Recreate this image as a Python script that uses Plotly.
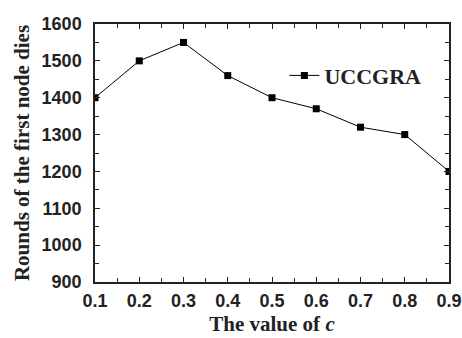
import plotly.graph_objects as go

c_values = [0.1, 0.2, 0.3, 0.4, 0.5, 0.6, 0.7, 0.8, 0.9]
rounds = [1400, 1500, 1550, 1460, 1400, 1370, 1320, 1300, 1200]
x_ticks = [0.1, 0.2, 0.3, 0.4, 0.5, 0.6, 0.7, 0.8, 0.9]
y_ticks = [900, 1000, 1100, 1200, 1300, 1400, 1500, 1600]

fig = go.Figure()
fig.add_trace(go.Scatter(
    x=c_values, y=rounds, mode="lines+markers", name="<b>UCCGRA</b>",
    line=dict(color="black", width=1),
    marker=dict(symbol="square", size=7, color="black"),
))

axis_common = dict(
    showline=True, linecolor="#222", linewidth=1.5, mirror="allticks",
    ticks="inside", ticklen=5, tickwidth=1, tickcolor="#222",
    showgrid=False, zeroline=False, automargin=False,
    tickfont=dict(family="Liberation Sans, Arial", size=18, color="#222", weight="bold"),
    minor=dict(ticks="inside", ticklen=4, tickwidth=1, tickcolor="#222", showgrid=False),
)

title_font = dict(family="Liberation Serif, Times New Roman", size=21, color="#222")

fig.update_xaxes(range=[0.1, 0.9], tickvals=x_ticks, ticktext=[f"{v:.1f}" for v in x_ticks],
                 minor_dtick=0.05, minor_tick0=0.1, ticklabelstandoff=2,
                 title=dict(text="<b>The value of <i>c</i></b>", standoff=6, font=title_font),
                 **axis_common)
fig.update_yaxes(range=[900, 1600], tickvals=y_ticks, minor_dtick=50, minor_tick0=900,
                 ticklabelstandoff=8,
                 title=dict(text="<b>Rounds of the first node dies</b>", standoff=6, font=title_font),
                 **axis_common)

fig.update_layout(
    width=462, height=338,
    margin=dict(l=95, r=13, t=24, b=56),
    paper_bgcolor="white", plot_bgcolor="white",
    font=dict(family="Liberation Sans, Arial", color="#222"),
    showlegend=True,
    legend=dict(x=0.535, y=0.80, xanchor="left", yanchor="middle",
                bgcolor="rgba(0,0,0,0)", itemwidth=30,
                font=dict(family="Liberation Serif, Times New Roman", size=22, color="#222")),
)
fig.write_html("out.html")
